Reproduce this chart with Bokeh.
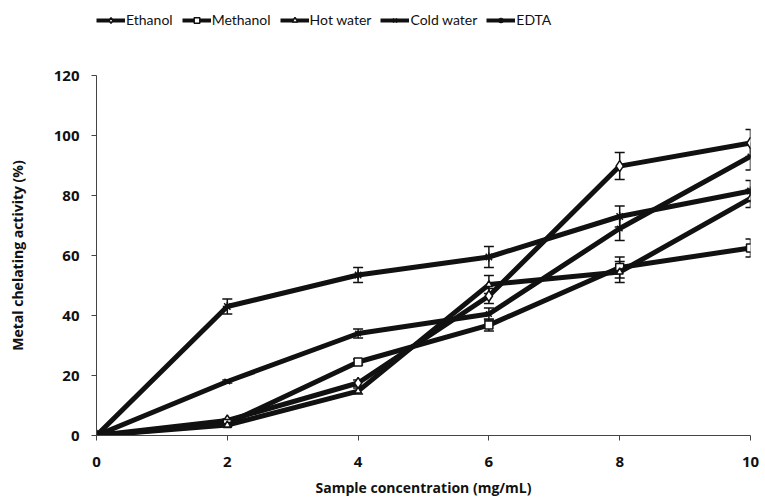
from bokeh.plotting import figure
from bokeh.layouts import column
from bokeh.models import ColumnDataSource, Whisker, TeeHead, Legend, LegendItem, Range1d, FixedTicker
from bokeh.embed import file_html
from bokeh.resources import INLINE

conc = [0, 2, 4, 6, 8, 10]
series_names = ["Ethanol", "Methanol", "Hot water", "Cold water", "EDTA"]
ethanol = [0, 5, 17.5, 46.5, 89.8, 97.5]
methanol = [0, 4, 24.5, 36.8, 56, 62.5]
hot_water = [0, 3.5, 14.8, 50.3, 54.5, 79]
cold_water = [0, 18, 34, 40.5, 69, 93]
edta = [0, 43, 53.5, 59.5, 73, 81.5]
ethanol_err = [0, 0.5, 1, 2.5, 4.5, 4.5]
methanol_err = [0, 0.5, 1, 2, 3.5, 3]
hot_water_err = [0, 0.5, 1, 3, 3.5, 3]
cold_water_err = [0, 0.5, 1.5, 2, 4, 4.5]
edta_err = [0, 2.5, 2.5, 3.5, 3.5, 3.5]
x_ticks = [0, 2, 4, 6, 8, 10]
y_ticks = [0, 20, 40, 60, 80, 100, 120]

values = [ethanol, methanol, hot_water, cold_water, edta]
errors = [ethanol_err, methanol_err, hot_water_err, cold_water_err, edta_err]
markers = ["diamond", "square", "triangle", "x", "asterisk"]
msizes = [11, 8, 7, 8, 9]

LEG_H = 40

p = figure(width=765, height=499 - LEG_H, output_backend="svg", toolbar_location=None,
           x_range=Range1d(0, 10), y_range=Range1d(0, 120),
           min_border_left=96, min_border_right=15, min_border_top=75 - LEG_H, min_border_bottom=62)
p.outline_line_color = None
p.xgrid.grid_line_color = None
p.ygrid.grid_line_color = None

lf = figure(width=765, height=LEG_H, output_backend="svg", toolbar_location=None,
            x_range=Range1d(0, 1), y_range=Range1d(0, 1),
            x_axis_location=None, y_axis_location=None,
            min_border_left=0, min_border_right=0, min_border_top=0, min_border_bottom=0)
lf.grid.visible = False
lf.outline_line_color = None

items = []
for name, vals, errs, mk, ms in zip(series_names, values, errors, markers, msizes):
    lo = [v - e for v, e in zip(vals, errs)]
    hi = [v + e for v, e in zip(vals, errs)]
    src = ColumnDataSource(dict(x=conc, y=vals, lo=lo, hi=hi))
    w = Whisker(source=src, base="x", lower="lo", upper="hi", line_color="#111111", line_width=1.5,
                upper_head=TeeHead(size=10, line_color="#111111", line_width=1.5),
                lower_head=TeeHead(size=10, line_color="#111111", line_width=1.5))
    p.add_layout(w)
    p.line("x", "y", source=src, line_color="#111111", line_width=5)
    p.scatter("x", "y", source=src, marker=mk, size=ms, fill_color="white",
              line_color="#111111", line_width=1.5)
    # legend proxies (no visible data: NaN placeholders)
    proxy = ColumnDataSource(dict(x=[float("nan")], y=[float("nan")]))
    l1 = lf.line("x", "y", source=proxy, line_color="#111111", line_width=4)
    l2 = lf.scatter("x", "y", source=proxy, marker=mk, size=ms - 2, fill_color="white",
                    line_color="#111111", line_width=1.5)
    items.append(LegendItem(label=name, renderers=[l1, l2]))

legend = Legend(items=items, orientation="horizontal", location=(0, 12),
                label_text_font="Lato", label_text_font_size="14px", label_text_color="#111111",
                glyph_width=29, glyph_height=14, spacing=9, label_standoff=1,
                border_line_color=None, background_fill_alpha=0, padding=0, margin=0)
lf.add_layout(legend, "center")

for ax in (p.xaxis[0], p.yaxis[0]):
    ax.major_label_text_font = "Open Sans"
    ax.major_label_text_font_style = "bold"
    ax.major_label_text_font_size = "15px"
    ax.major_label_text_color = "#111111"
    ax.axis_label_text_font = "Open Sans"
    ax.axis_label_text_font_style = "bold"
    ax.axis_label_text_font_size = "14px"
    ax.axis_label_text_color = "#111111"
    ax.axis_line_color = "#444444"
    ax.major_tick_line_color = "#444444"
    ax.minor_tick_line_color = None
    ax.major_tick_in = 0
    ax.major_tick_out = 5

p.xaxis.ticker = FixedTicker(ticks=x_ticks)
p.yaxis.ticker = FixedTicker(ticks=y_ticks)
p.xaxis.axis_label = "Sample concentration (mg/mL)"
p.yaxis.axis_label = "Metal chelating activity (%)"
p.xaxis.major_label_standoff = 16
p.xaxis.axis_label_standoff = 8
p.yaxis.major_label_standoff = 12
p.yaxis.axis_label_standoff = 24

layout = column(lf, p, spacing=0)
open("out.html", "w").write(file_html(layout, INLINE))
